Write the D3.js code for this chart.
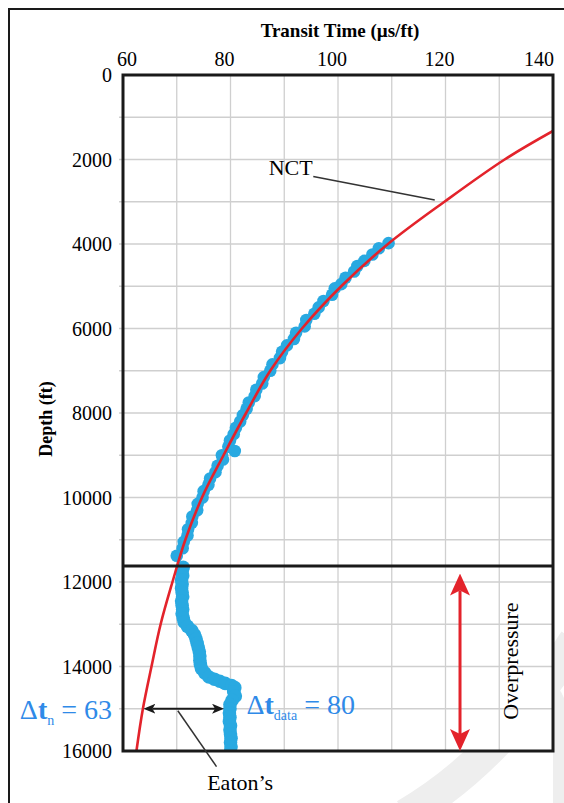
<!DOCTYPE html>
<html>
<head>
<meta charset="utf-8">
<title>Eaton's method - transit time vs depth</title>
<script src="https://d3js.org/d3.v7.min.js"></script>
<style>
  body { margin: 0; background: #fff; }
  svg, text { font-family: "Liberation Serif", "Times New Roman", serif; }
</style>
</head>
<body>
<script>

// ---- data (depth ft, transit time us/ft) ----
var xTicks = [60, 80, 100, 120, 140];
var depthTicks = [0, 2000, 4000, 6000, 8000, 10000, 12000, 14000, 16000];

// normal compaction trend
var nctDepth = [1325, 2000, 3000, 4000, 5000, 6000, 7000, 8000, 9000, 10000, 11000, 12000, 13000, 14000, 15000, 16000];
var nctDt    = [140, 131, 119.8, 109.3, 100.6, 93.3, 87.4, 82.9, 78.7, 74.7, 71.6, 69.2, 67.0, 65.3, 63.7, 62.5];

// measured transit time, normally pressured section
var upperDepth = [3980, 4100, 4250, 4400, 4520, 4650, 4800, 4950, 5050, 5200, 5350, 5500, 5650, 5800, 5950,
  6100, 6250, 6400, 6550, 6700, 6850, 7000, 7150, 7300, 7450, 7600, 7750, 7900, 8050, 8200, 8350, 8500,
  8650, 8800, 8900, 9000, 9100, 9250, 9400, 9550, 9700, 9850, 10000, 10150, 10300, 10450, 10600, 10750,
  10900, 11050, 11200, 11380];
var upperDt = [109.4, 107.6, 106.4, 104.9, 103.6, 103.0, 101.4, 100.6, 99.4, 98.9, 97.3, 96.4, 95.6, 94.1, 93.8,
  92.2, 91.8, 90.5, 89.6, 89.2, 87.8, 87.4, 86.2, 85.9, 84.8, 84.5, 83.4, 83.0, 82.3, 81.8, 81.0, 80.6,
  79.9, 79.6, 80.8, 78.4, 78.6, 77.6, 77.2, 76.2, 75.9, 75.0, 74.8, 73.9, 73.8, 72.9, 72.8, 72.1,
  72.0, 71.3, 71.1, 70.0];

// measured transit time, overpressured section
var lowerDepth = [11650, 11750, 11850, 11950, 12050, 12150, 12250, 12350, 12450, 12550, 12650, 12750, 12850,
  12950, 13050, 13150, 13250, 13350, 13450, 13550, 13650, 13750, 13850, 13950, 14050, 14150, 14250, 14300,
  14350, 14400, 14450, 14500, 14600, 14700, 14800, 14900, 15000, 15100, 15200, 15300, 15400, 15500, 15600,
  15700, 15800, 15900, 16000];
var lowerDt = [71.2, 71.0, 71.1, 70.9, 71.0, 70.9, 71.0, 71.1, 70.9, 71.0, 71.1, 71.0, 71.2,
  71.4, 72.0, 72.8, 73.3, 73.6, 73.8, 74.0, 74.2, 74.3, 74.3, 74.4, 74.6, 75.2, 76.0, 77.0,
  78.0, 79.0, 80.2, 80.8, 80.6, 80.9, 80.3, 79.9, 79.9, 79.8, 79.9, 79.8, 80.0, 79.9, 80.0,
  80.1, 80.0, 80.1, 80.0];

var topOverpressure = 11620;
var eatonDepth = 15000, dtNormal = 63, dtData = 80;
var eatonArrowDt = [63.8, 78.8];
var overArrow = { dt: 122.7, top: 11800, bottom: 16000 };

// ---- layout ----
var W = 564, H = 803;
var x = d3.scaleLinear().domain([60, 140]).range([123, 553]);
var y = d3.scaleLinear().domain([0, 16000]).range([75, 751]);

var svg = d3.select("body").append("svg")
    .attr("width", W)
    .attr("height", H);

var defs = svg.append("defs");
defs.append("clipPath").attr("id", "plotClip")
  .append("rect")
    .attr("x", x(60)).attr("y", y(0))
    .attr("width", x(140) - x(60)).attr("height", y(16000) - y(0));

defs.append("marker")
    .attr("id", "blackHead")
    .attr("viewBox", "0 0 12 10")
    .attr("refX", 3).attr("refY", 5)
    .attr("markerWidth", 12).attr("markerHeight", 10)
    .attr("markerUnits", "userSpaceOnUse")
    .attr("orient", "auto-start-reverse")
  .append("path")
    .attr("d", "M0,0 L12,5 L0,10 L3,5 Z")
    .attr("fill", "#1a1a1a");

defs.append("marker")
    .attr("id", "redHead")
    .attr("viewBox", "0 0 22 20")
    .attr("refX", 5).attr("refY", 10)
    .attr("markerWidth", 22).attr("markerHeight", 20)
    .attr("markerUnits", "userSpaceOnUse")
    .attr("orient", "auto-start-reverse")
  .append("path")
    .attr("d", "M0,0 L22,10 L0,20 L5,10 Z")
    .attr("fill", "#e3232b");

// outer frame
svg.append("path")
    .attr("d", "M9," + H + " L9,9 L" + W + ",9")
    .attr("fill", "none")
    .attr("stroke", "#1a1a1a")
    .attr("stroke-width", 2);

// faint watermark swoosh behind the plot
svg.append("path")
    .attr("d", "M405,815 Q500,760 575,640")
    .attr("fill", "none")
    .attr("stroke", "#eeeeee")
    .attr("stroke-width", 32);
svg.append("path")
    .attr("d", "M553,683 Q560,688 564,698 L564,803 L553,803 Z")
    .attr("fill", "#eeeeee");

// plot background + grid
svg.append("rect")
    .attr("x", x(60)).attr("y", y(0))
    .attr("width", x(140) - x(60)).attr("height", y(16000) - y(0))
    .attr("fill", "#fff");

svg.append("g").selectAll("line")
  .data(d3.range(70, 140, 10))
  .join("line")
    .attr("x1", d => x(d)).attr("x2", d => x(d))
    .attr("y1", y(0)).attr("y2", y(16000))
    .attr("stroke", "#cfcfcf").attr("stroke-width", 1.3);

svg.append("g").selectAll("line")
  .data(d3.range(1000, 16000, 1000))
  .join("line")
    .attr("x1", x(60) - 4).attr("x2", x(140))
    .attr("y1", d => y(d)).attr("y2", d => y(d))
    .attr("stroke", "#cfcfcf").attr("stroke-width", 1.3);

// measured data
var dotColor = "#29a9e1";
var plot = svg.append("g").attr("clip-path", "url(#plotClip)");
plot.append("g").selectAll("circle")
  .data(upperDepth.map((d, i) => [d, upperDt[i]]))
  .join("circle")
    .attr("cx", d => x(d[1])).attr("cy", d => y(d[0]))
    .attr("r", 6.3).attr("fill", dotColor);
plot.append("g").selectAll("circle")
  .data(lowerDepth.map((d, i) => [d, lowerDt[i]]))
  .join("circle")
    .attr("cx", d => x(d[1])).attr("cy", d => y(d[0]))
    .attr("r", 6.8).attr("fill", dotColor);

// NCT
plot.append("path")
    .datum(nctDepth.map((d, i) => [d, nctDt[i]]))
    .attr("fill", "none")
    .attr("stroke", "#e3232b")
    .attr("stroke-width", 2.6)
    .attr("d", d3.line()
      .x(d => x(d[1]))
      .y(d => y(d[0]))
      .curve(d3.curveCatmullRom.alpha(0.5)));

// top of overpressure
svg.append("line")
    .attr("x1", x(60)).attr("x2", x(140))
    .attr("y1", y(topOverpressure)).attr("y2", y(topOverpressure))
    .attr("stroke", "#1a1a1a").attr("stroke-width", 3);

// plot border
svg.append("rect")
    .attr("x", x(60)).attr("y", y(0))
    .attr("width", x(140) - x(60)).attr("height", y(16000) - y(0))
    .attr("fill", "none")
    .attr("stroke", "#1a1a1a").attr("stroke-width", 3);

// axes text
svg.append("text")
    .attr("x", (x(60) + x(140)) / 2 + 2).attr("y", 37)
    .attr("text-anchor", "middle")
    .attr("font-weight", "bold").attr("font-size", "19px")
    .text("Transit Time (\u00b5s/ft)");

svg.append("g").selectAll("text")
  .data(xTicks)
  .join("text")
    .attr("x", d => Math.min(Math.max(x(d) - 6, x(60) + 4), x(140) - 14))
    .attr("y", y(0) - 9)
    .attr("text-anchor", "middle").attr("font-size", "20px")
    .text(d => d);

svg.append("g").selectAll("text")
  .data(depthTicks)
  .join("text")
    .attr("x", x(60) - 11).attr("y", d => y(d)).attr("dy", "0.35em")
    .attr("text-anchor", "end").attr("font-size", "20px")
    .text(d => d);

svg.append("text")
    .attr("transform", "translate(46," + ((y(0) + y(16000)) / 2 + 6) + ") rotate(-90)")
    .attr("text-anchor", "middle").attr("dy", "0.35em")
    .attr("font-weight", "bold").attr("font-size", "18px")
    .text("Depth (ft)");

// NCT label
svg.append("line")
    .attr("x1", x(95.4)).attr("y1", y(2400))
    .attr("x2", x(118)).attr("y2", y(2960))
    .attr("stroke", "#333").attr("stroke-width", 1.5);
svg.append("text")
    .attr("x", x(95.3)).attr("y", y(2360))
    .attr("text-anchor", "end").attr("font-size", "22px")
    .text("NCT");

// Eaton's arrow
svg.append("line")
    .attr("x1", x(eatonArrowDt[0]) + 9).attr("x2", x(eatonArrowDt[1]) - 9)
    .attr("y1", y(eatonDepth)).attr("y2", y(eatonDepth))
    .attr("stroke", "#1a1a1a").attr("stroke-width", 2)
    .attr("marker-start", "url(#blackHead)")
    .attr("marker-end", "url(#blackHead)");
svg.append("line")
    .attr("x1", x(70.2)).attr("y1", y(eatonDepth) + 2)
    .attr("x2", x(77.4)).attr("y2", y(16370))
    .attr("stroke", "#333").attr("stroke-width", 1.5);
svg.append("text")
    .attr("x", x(81.8)).attr("y", y(16920))
    .attr("text-anchor", "middle").attr("font-size", "22px")
    .text("Eaton\u2019s");

// delta-t labels
var blue = "#2f8ae8";
function deltaLabel(t, sub, val) {
  t.append("tspan").text("\u0394");
  t.append("tspan").attr("font-weight", "bold").text("t");
  t.append("tspan").attr("font-size", "14px").attr("dy", 6).text(sub);
  t.append("tspan").attr("dy", -6).text(" = " + val);
}
svg.append("text")
    .attr("x", x(60) - 11).attr("y", y(eatonDepth) + 10)
    .attr("text-anchor", "end").attr("font-size", "28px").attr("fill", blue)
    .call(deltaLabel, "n", dtNormal);
svg.append("text")
    .attr("x", x(dtData) + 16).attr("y", y(eatonDepth) + 5)
    .attr("text-anchor", "start").attr("font-size", "28px").attr("fill", blue)
    .call(deltaLabel, "data", dtData);

// overpressure arrow and label
svg.append("line")
    .attr("x1", x(overArrow.dt)).attr("x2", x(overArrow.dt))
    .attr("y1", y(overArrow.top) + 17).attr("y2", y(overArrow.bottom) - 17)
    .attr("stroke", "#e3232b").attr("stroke-width", 3)
    .attr("marker-start", "url(#redHead)")
    .attr("marker-end", "url(#redHead)");
svg.append("text")
    .attr("transform", "translate(" + x(132) + "," + y(13870) + ") rotate(-90)")
    .attr("text-anchor", "middle").attr("dy", "0.35em")
    .attr("font-size", "22px")
    .text("Overpressure");

</script>
</body>
</html>
